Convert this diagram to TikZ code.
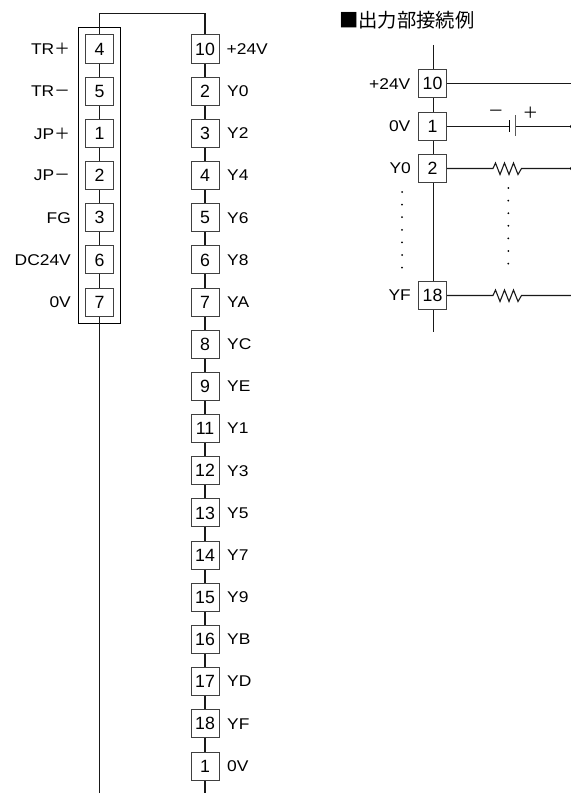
\documentclass[tikz,border=0pt]{standalone}
\usepackage{fontspec}
\setmainfont{Liberation Sans}
\newfontfamily\cjk{Noto Sans CJK JP}
\newfontfamily\widesans[FakeStretch=1.12]{Liberation Sans}
\usepackage{tikz}
\tikzset{
  pinbox/.style={draw=black!75, line width=1bp, fill=white, minimum width=28bp, minimum height=28bp, inner sep=0pt, font=\fontsize{17.8}{18}\selectfont},
  sig/.style={inner sep=0pt, font=\widesans\fontsize{15.6}{16}\selectfont},
  sign/.style={inner sep=0pt, font=\cjk\fontsize{15.6}{16}\selectfont},
  wire/.style={line width=1.1bp, black!90},
  junction/.style={circle, fill=black, inner sep=0pt, minimum size=4bp}
}

\begin{document}
\begin{tikzpicture}[x=1bp,y=-1bp]
  \useasboundingbox (0,0) rectangle (571,796);

  % left connector
  \coordinate (topleft) at (99.5,13.5);
  \coordinate (topright) at (205,13.5);
  \coordinate (endleft) at (99.5,793);
  \coordinate (endright) at (205,793);
  \node[draw, line width=0.8bp, minimum width=42bp, minimum height=295bp, inner sep=0pt] (frame) at (99.6,175.4) {};
  \draw[wire] (endleft) -- (topleft) -- (topright) -- (endright);

  \node[pinbox] (a4) at (99.5,49) {4};
  \node[pinbox] (a5) at (99.5,91.2) {5};
  \node[pinbox] (a1) at (99.5,133.4) {1};
  \node[pinbox] (a2) at (99.5,175.5) {2};
  \node[pinbox] (a3) at (99.5,217.7) {3};
  \node[pinbox] (a6) at (99.5,259.9) {6};
  \node[pinbox] (a7) at (99.5,302) {7};
  \node[sign, anchor=east] (ltr1) at (70,49) {\widesans TR\cjk ＋};
  \node[sign, anchor=east] (ltr2) at (70,91.2) {\widesans TR\cjk －};
  \node[sign, anchor=east] (ljp1) at (70,133.4) {\widesans JP\cjk ＋};
  \node[sign, anchor=east] (ljp2) at (70,175.5) {\widesans JP\cjk －};
  \node[sig, anchor=east] (lfg) at (71,217.7) {FG};
  \node[sig, anchor=east] (ldc) at (71,259.9) {DC24V};
  \node[sig, anchor=east] (lzero) at (71,302) {0V};

  % right connector
  \node[pinbox] (b10) at (205,49) {10};
  \node[pinbox] (b2) at (205,91.2) {2};
  \node[pinbox] (b3) at (205,133.4) {3};
  \node[pinbox] (b4) at (205,175.5) {4};
  \node[pinbox] (b5) at (205,217.7) {5};
  \node[pinbox] (b6) at (205,259.9) {6};
  \node[pinbox] (b7) at (205,302) {7};
  \node[pinbox] (b8) at (205,344.2) {8};
  \node[pinbox] (b9) at (205,386.4) {9};
  \node[pinbox] (b11) at (205,428.5) {11};
  \node[pinbox] (b12) at (205,470.7) {12};
  \node[pinbox] (b13) at (205,512.9) {13};
  \node[pinbox] (b14) at (205,555.1) {14};
  \node[pinbox] (b15) at (205,597.2) {15};
  \node[pinbox] (b16) at (205,639.4) {16};
  \node[pinbox] (b17) at (205,681.6) {17};
  \node[pinbox] (b18) at (205,723.8) {18};
  \node[pinbox] (b1) at (205,766) {1};
  \node[sig, anchor=west] (rv) at (226.5,49) {+24V};
  \node[sig, anchor=west] (ry0) at (227,91.2) {Y0};
  \node[sig, anchor=west] (ry2) at (227,133.4) {Y2};
  \node[sig, anchor=west] (ry4) at (227,175.5) {Y4};
  \node[sig, anchor=west] (ry6) at (227,217.7) {Y6};
  \node[sig, anchor=west] (ry8) at (227,259.9) {Y8};
  \node[sig, anchor=west] (rya) at (227,302) {YA};
  \node[sig, anchor=west] (ryc) at (227,344.2) {YC};
  \node[sig, anchor=west] (rye) at (227,386.4) {YE};
  \node[sig, anchor=west] (ry1) at (227,428.5) {Y1};
  \node[sig, anchor=west] (ry3) at (227,470.7) {Y3};
  \node[sig, anchor=west] (ry5) at (227,512.9) {Y5};
  \node[sig, anchor=west] (ry7) at (227,555.1) {Y7};
  \node[sig, anchor=west] (ry9) at (227,597.2) {Y9};
  \node[sig, anchor=west] (ryb) at (227,639.4) {YB};
  \node[sig, anchor=west] (ryd) at (227,681.6) {YD};
  \node[sig, anchor=west] (ryf) at (227,723.8) {YF};
  \node[sig, anchor=west] (rzero) at (227,766) {0V};

  % output example
  \node[anchor=west, inner sep=0pt, font=\cjk\fontsize{19.4}{20}\selectfont] (title) at (339,20.5) {■出力部接続例};
  \coordinate (extop) at (433.3,45);
  \coordinate (exbot) at (433.3,331.5);
  \coordinate (railtop) at (572,83.5);
  \coordinate (railbot) at (572,295.5);
  \draw[wire] (extop) -- (exbot);
  \draw[wire] (railtop) -- (railbot);
  \node[pinbox] (e10) at (432.5,83.5) {10};
  \node[pinbox] (e1) at (432.5,126.5) {1};
  \node[pinbox] (e2) at (432.5,168.5) {2};
  \node[pinbox] (e18) at (432.5,295.5) {18};
  \node[sig, anchor=east] (lv) at (410.5,84) {+24V};
  \node[sig, anchor=east] (lz) at (410.5,126) {0V};
  \node[sig, anchor=east] (ly0) at (411,168) {Y0};
  \node[sig, anchor=east] (lyf) at (411,295) {YF};
  \node[junction] (j1) at (572,126.5) {};
  \node[junction] (j2) at (572,168.5) {};
  \draw[wire] (e10) -- (railtop);

  % battery
  \coordinate (batneg) at (509.3,126.5);
  \coordinate (batpos) at (515.7,126.5);
  \draw[wire] (e1) -- (batneg);
  \draw[wire] (batpos) -- (j1);
  \draw[line width=1.6bp] (509.3,120) -- (509.3,132);
  \draw[line width=1.1bp, black!65] (515.7,115) -- (515.7,136);
  \node[sign] (minus) at (496,113) {－};
  \node[sign] (plus) at (530.5,113) {＋};

  % resistors
  \draw[wire] (e2) -- (493,168.5) -- (495.5,163) -- (500,174.5) -- (504.5,163) -- (509,174.5) -- (513.5,163) -- (518,174.5) -- (521.5,168.5) -- (j2);
  \draw[wire] (e18) -- (493,295.5) -- (495.5,290) -- (500,301.5) -- (504.5,290) -- (509,301.5) -- (513.5,290) -- (518,301.5) -- (521.5,295.5) -- (railbot);

  % dots
  \fill (402,192) circle (1bp);
  \fill (402,204.6) circle (1bp);
  \fill (402,217.2) circle (1bp);
  \fill (402,229.8) circle (1bp);
  \fill (402,242.4) circle (1bp);
  \fill (402,255) circle (1bp);
  \fill (402,267.6) circle (1bp);
  \fill (508.3,188) circle (1bp);
  \fill (508.3,200.6) circle (1bp);
  \fill (508.3,213.2) circle (1bp);
  \fill (508.3,225.8) circle (1bp);
  \fill (508.3,238.4) circle (1bp);
  \fill (508.3,251) circle (1bp);
  \fill (508.3,263.6) circle (1bp);
\end{tikzpicture}
\end{document}
